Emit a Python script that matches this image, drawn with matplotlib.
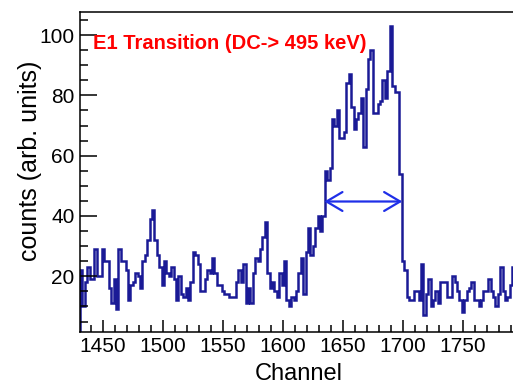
import numpy as np
import matplotlib.pyplot as plt
from matplotlib.patches import FancyArrowPatch
from matplotlib.ticker import MultipleLocator

CH_START = 1431   # low edge of the first bin
BIN_WIDTH = 2     # channels per bin

# counts per bin, 1431 .. 1793
counts = [
    22, 10, 18, 23, 19, 19, 29, 20, 20, 29,
    25, 25, 16, 11, 19, 9, 29, 25, 25, 22,
    12, 17, 18, 21, 20, 16, 25, 27, 32, 39,
    42, 32, 27, 23, 17, 25, 21, 20, 23, 19,
    12, 20, 14, 13, 16, 12, 18, 28, 27, 24,
    15, 15, 19, 22, 21, 26, 21, 17, 17, 15,
    14, 14, 13, 13, 13, 18, 22, 18, 24, 11,
    16, 11, 21, 26, 25, 29, 33, 38, 21, 16,
    18, 15, 13, 21, 17, 25, 12, 10, 13, 12,
    15, 21, 26, 14, 28, 36, 27, 30, 36, 40,
    35, 40, 55, 52, 56, 72, 70, 75, 66, 66,
    68, 84, 87, 76, 69, 72, 74, 79, 63, 82,
    92, 95, 74, 74, 77, 78, 85, 79, 88, 103,
    83, 81, 81, 54, 25, 22, 13, 12, 12, 15,
    15, 12, 24, 7, 14, 19, 10, 12, 15, 11,
    18, 18, 18, 13, 13, 20, 18, 15, 12, 8,
    12, 15, 16, 18, 12, 12, 10, 12, 15, 15,
    19, 15, 13, 10, 14, 23, 15, 12, 13, 17,
    23,
]

# FWHM of the transition peak
fwhm_lo, fwhm_hi = 1634.5, 1699.5
half_max = 44.8

x_range = (1431, 1796)
y_range = (1.6, 107.8)
title = 'E1 Transition (DC-> 495 keV)'

plt.rcParams['font.family'] = ['Liberation Sans', 'DejaVu Sans']

edges = CH_START + BIN_WIDTH * np.arange(len(counts) + 1)

fig = plt.figure(figsize=(5.13, 3.84), dpi=100)
ax = fig.add_axes([0.156, 0.136, 0.854, 0.834])

ax.stairs(counts, edges, color='#1a1a96', lw=1.8)

arrow = FancyArrowPatch((fwhm_lo, half_max), (fwhm_hi, half_max),
                        arrowstyle='<->,head_length=11.5,head_width=6.8',
                        mutation_scale=1, shrinkA=0, shrinkB=0,
                        color='#1f2fe8', lw=1.6)
ax.add_patch(arrow)

ax.text(0.03, 0.9, title, transform=ax.transAxes, color='red',
        fontsize=14.5, fontweight='bold', ha='left', va='center')

ax.set_xlim(*x_range)
ax.set_ylim(*y_range)
ax.xaxis.set_major_locator(MultipleLocator(50))
ax.xaxis.set_minor_locator(MultipleLocator(10))
ax.yaxis.set_major_locator(MultipleLocator(20))
ax.yaxis.set_minor_locator(MultipleLocator(5))
ax.tick_params(which='both', direction='in', labelsize=15, width=1.1)
ax.tick_params(axis='x', which='major', length=9, pad=4)
ax.tick_params(axis='x', which='minor', length=5)
ax.tick_params(axis='y', which='major', length=12, pad=4)
ax.tick_params(axis='y', which='minor', length=6)
for sp in ax.spines.values():
    sp.set_linewidth(1.1)

ax.set_xlabel('Channel', fontsize=17, labelpad=5)
ax.set_ylabel('counts (arb. units)', fontsize=18, labelpad=2)
ax.yaxis.set_label_coords(-0.087, 0.535)

fig.savefig('out.png', dpi=100)
